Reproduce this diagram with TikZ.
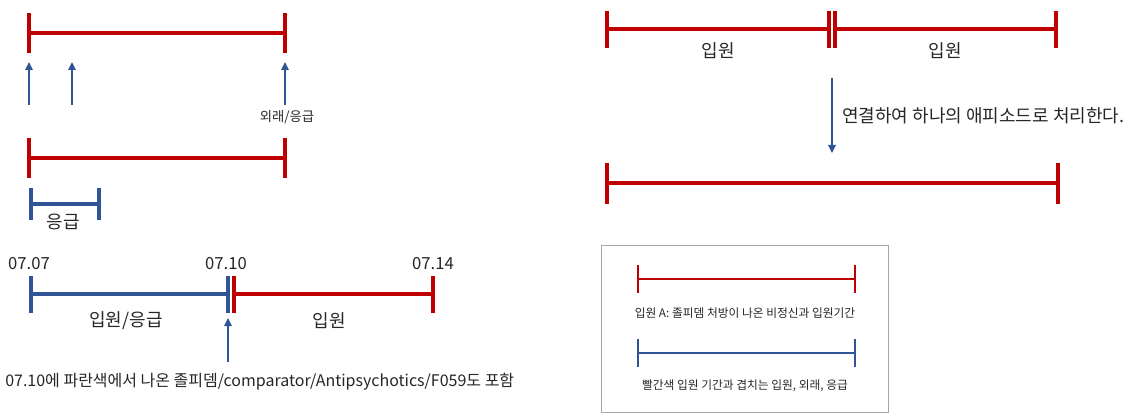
\documentclass[tikz,border=0pt]{standalone}
\usepackage{fontspec}
\setmainfont{Noto Sans CJK KR}
\usetikzlibrary{arrows.meta}
\definecolor{rd}{HTML}{C00000}
\definecolor{bl}{HTML}{2F5597}
\definecolor{tx}{HTML}{262626}
\begin{document}
\begin{tikzpicture}[x=0.75pt,y=-0.75pt,
  rbar/.style={draw=rd,line width=2.3pt},
  bbar/.style={draw=bl,line width=2.3pt},
  rthin/.style={draw=rd,line width=1.4pt},
  bthin/.style={draw=bl,line width=1.4pt},
  arr/.style={draw=bl,line width=1.5pt,-{Triangle[length=6pt,width=5.5pt]}},
  lbl/.style={text=tx,inner sep=0pt,font=\fontsize{13.5pt}{16pt}\selectfont},
  dlbl/.style={text=tx,inner sep=0pt,font=\fontsize{12.5pt}{15pt}\selectfont},
  nlbl/.style={text=tx,inner sep=0pt,font=\fontsize{12pt}{15pt}\selectfont},
  slbl/.style={text=tx,inner sep=0pt,font=\fontsize{10pt}{12pt}\selectfont},
  tlbl/.style={text=tx,inner sep=0pt,font=\fontsize{8.8pt}{10pt}\selectfont}]
\useasboundingbox (0,0) rectangle (1134,417);
% ---------- top left ----------
\coordinate (a1) at (29,33); \coordinate (a2) at (285,33);
\draw[rbar] (a1) ++(0,-20) -- ++(0,40) (a1) -- (a2) (a2) ++(0,-20) -- ++(0,40);
\coordinate (u1s) at (29,105); \coordinate (u1e) at (29,62);
\coordinate (u2s) at (72,105); \coordinate (u2e) at (72,62);
\coordinate (u3s) at (285,105); \coordinate (u3e) at (285,62);
\draw[arr] (u1s) -- (u1e);
\draw[arr] (u2s) -- (u2e);
\draw[arr] (u3s) -- (u3e);
\node[slbl] (oe) at (287,117) {외래/응급};
\coordinate (b1) at (29,158); \coordinate (b2) at (285,158);
\draw[rbar] (b1) ++(0,-20) -- ++(0,40) (b1) -- (b2) (b2) ++(0,-20) -- ++(0,40);
\coordinate (c1) at (31,204); \coordinate (c2) at (99,204);
\draw[bbar] (c1) ++(0,-16) -- ++(0,32) (c1) -- (c2) (c2) ++(0,-16) -- ++(0,32);
\node[lbl] (eg) at (63,222) {응급};
% ---------- bottom left ----------
\node[dlbl] (d07) at (29,264) {07.07};
\node[dlbl] (d10) at (226,264) {07.10};
\node[dlbl] (d14) at (433,264) {07.14};
\coordinate (e1) at (31,294); \coordinate (e2) at (228,294);
\coordinate (f1) at (234,294); \coordinate (f2) at (433,294);
\draw[bbar] (e1) ++(0,-18) -- ++(0,37) (e1) -- (e2) (e2) ++(0,-18) -- ++(0,37);
\draw[rbar] (f1) ++(0,-18) -- ++(0,37) (f1) -- (f2) (f2) ++(0,-18) -- ++(0,37);
\node[lbl] (ie) at (126,321) {입원/응급};
\node[lbl] (iw) at (329,321) {입원};
\coordinate (g1) at (228,362); \coordinate (g2) at (228,318);
\draw[arr] (g1) -- (g2);
\node[nlbl,anchor=west] (note) at (5,382) {07.10에 파란색에서 나온 졸피뎀/comparator/Antipsychotics/F059도 포함};
% ---------- top right ----------
\coordinate (h1) at (607,29); \coordinate (h2) at (829,29);
\coordinate (k1) at (835,29); \coordinate (k2) at (1056,29);
\draw[rbar] (h1) ++(0,-18) -- ++(0,37) (h1) -- (h2) (h2) ++(0,-18) -- ++(0,37);
\draw[rbar] (k1) ++(0,-18) -- ++(0,37) (k1) -- (k2) (k2) ++(0,-18) -- ++(0,37);
\node[lbl] (iw1) at (718,51) {입원};
\node[lbl] (iw2) at (945,51) {입원};
\coordinate (m1) at (832,78); \coordinate (m2) at (832,153);
\draw[arr] (m1) -- (m2);
\node[lbl,anchor=west] (conn) at (842,116) {연결하여 하나의 애피소드로 처리한다.};
\coordinate (n1) at (607,183); \coordinate (n2) at (1058,183);
\draw[rbar] (n1) ++(0,-20) -- ++(0,41) (n1) -- (n2) (n2) ++(0,-20) -- ++(0,41);
% ---------- legend ----------
\node[draw=black!35,line width=0.9pt,minimum width=287*0.75pt,minimum height=167*0.75pt,inner sep=0pt,anchor=north west] (leg) at (601,245) {};
\coordinate (p1) at (638,279); \coordinate (p2) at (855,279);
\draw[rthin] (p1) ++(0,-14) -- ++(0,28) (p1) -- (p2) (p2) ++(0,-14) -- ++(0,28);
\node[tlbl] (lt1) at (745,313) {입원 A: 졸피뎀 처방이 나온 비정신과 입원기간};
\coordinate (q1) at (638,353); \coordinate (q2) at (855,353);
\draw[bthin] (q1) ++(0,-14) -- ++(0,28) (q1) -- (q2) (q2) ++(0,-14) -- ++(0,28);
\node[tlbl] (lt2) at (745,386) {빨간색 입원 기간과 겹치는 입원, 외래, 응급};
\end{tikzpicture}
\end{document}
